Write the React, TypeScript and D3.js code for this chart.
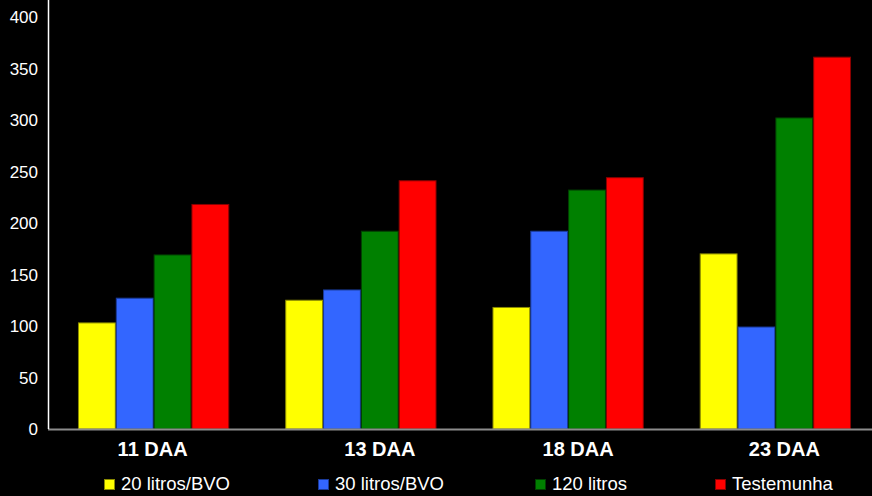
import React from "react";
import * as d3 from "d3";

const categories = ["11 DAA", "13 DAA", "18 DAA", "23 DAA"];
const seriesNames = ["20 litros/BVO", "30 litros/BVO", "120 litros", "Testemunha"];
const s20 = [103, 125, 118, 170];
const s30 = [127, 135, 192, 99];
const s120 = [169, 192, 232, 302];
const sTest = [218, 241, 244, 361];
const yTicks = [0, 50, 100, 150, 200, 250, 300, 350, 400];

const fills = ["#FFFF00", "#3366FF", "#008000", "#FF0000"];
const strokes = ["#8a8a00", "#1a3a99", "#004000", "#8a0000"];
const legendX = [104, 318, 535, 715];
const labelDx = [-1, 19, 10, 9];

export default function App() {
  const W = 872, H = 496;
  const series = [s20, s30, s120, sTest];
  const y = d3.scaleLinear().domain([0, 400]).range([429, 17]);
  const x0 = d3.scaleBand<string>().domain(categories).range([50, 879]).paddingInner(0.27).paddingOuter(0.135);
  const x1 = d3.scaleBand<number>().domain([0, 1, 2, 3]).range([0, x0.bandwidth()]);
  const font = "'Liberation Sans', Arial, sans-serif";
  return (
    <svg width={W} height={H} style={{ position: "absolute", left: 0, top: 0, background: "#000" }} fontFamily={font}>
      <rect x={0} y={0} width={W} height={H} fill="#000" />
      {categories.map((c, ci) =>
        series.map((s, si) => (
          <rect
            key={c + si}
            x={(x0(c) as number) + (x1(si) as number) + 0.5}
            y={y(s[ci])}
            width={x1.bandwidth() - 1}
            height={y(0) - y(s[ci])}
            fill={fills[si]}
            stroke={strokes[si]}
            strokeWidth={1}
          />
        ))
      )}
      <line x1={48} x2={W} y1={429.5} y2={429.5} stroke="#8c8c8c" strokeWidth={2} />
      <line x1={48.5} x2={48.5} y1={0} y2={429} stroke="#fff" strokeWidth={1.5} />
      {yTicks.map((t) => (
        <text key={t} x={38} y={y(t)} dy="0.36em" textAnchor="end" fill="#fff" fontSize={17}>
          {t}
        </text>
      ))}
      {categories.map((c, i) => (
        <text key={c} x={(x0(c) as number) + x0.bandwidth() / 2 + labelDx[i]} y={456} textAnchor="middle" fill="#fff" fontSize={20} fontWeight="bold">
          {c}
        </text>
      ))}
      {seriesNames.map((n, i) => (
        <g key={n}>
          <rect x={legendX[i] + 0.5} y={479.5} width={10} height={10} fill={fills[i]} stroke={strokes[i]} strokeWidth={1} />
          <text x={legendX[i] + 17} y={490} fill="#fff" fontSize={18.5}>
            {n}
          </text>
        </g>
      ))}
    </svg>
  );
}
